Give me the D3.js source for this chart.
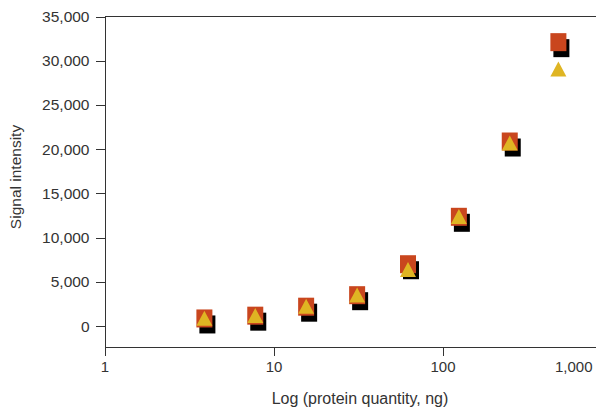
<!DOCTYPE html>
<html>
<head>
<meta charset="utf-8">
<script src="https://cdn.jsdelivr.net/npm/d3@7"></script>
<style>
  body { margin: 0; background: #fff; }
  text { font-family: "Liberation Sans", Arial, sans-serif; fill: #333; }
  .axis path, .axis line { stroke: #333; shape-rendering: crispEdges; }
</style>
</head>
<body>
<div id="chart"></div>
<script>
// protein quantity (ng) and the two measured series
var quantities = [3.9, 7.8, 15.6, 31.25, 62.5, 125, 250, 485]
var squareValues = [870, 1185, 2200, 3500, 7000, 12360, 20870, 32100]
var triangleValues = [900, 1200, 2250, 3520, 6400, 12400, 20700, 29060]

var yTicks = [0, 5000, 10000, 15000, 20000, 25000, 30000, 35000]
var xTicks = [1, 10, 100, 1000]

var width = 596,
    height = 407

var svg = d3.select('#chart')
  .append('svg')
  .attr('width', width)
  .attr('height', height)

var xScale = d3.scaleLog()
  .domain([1, 1000])
  .range([104.5, 611.5])

var yScale = d3.scaleLinear()
  .domain([-2300, 35000])
  .range([346.5, 16.5])

var xAxis = d3.axisBottom(xScale)
  .tickValues(xTicks)
  .tickSize(9)
  .tickSizeOuter(0)
  .tickFormat(d3.format(','))

var yAxis = d3.axisLeft(yScale)
  .tickValues(yTicks)
  .tickSize(9)
  .tickSizeOuter(0)
  .tickFormat(d3.format(','))

var gx = svg.append('g')
  .attr('class', 'axis')
  .attr('transform', 'translate(0,' + yScale(-2300) + ')')
  .call(xAxis)

gx.selectAll('text')
  .attr('y', 15)
  .attr('dy', '0.71em')
  .style('font-size', '15px')

// last label sits inside the visible area
gx.selectAll('.tick')
  .filter(d => d === 1000)
  .select('text')
  .attr('text-anchor', 'end')
  .attr('x', -19.5)

var gy = svg.append('g')
  .attr('class', 'axis')
  .attr('transform', 'translate(' + xScale(1) + ',0)')
  .call(yAxis)

gy.selectAll('text')
  .attr('x', -15)
  .style('font-size', '15.5px')

// top frame line
svg.append('line')
  .attr('x1', xScale(1))
  .attr('x2', width)
  .attr('y1', yScale(35000))
  .attr('y2', yScale(35000))
  .attr('stroke', '#333')
  .style('shape-rendering', 'crispEdges')

// squares with their black shadow
svg.selectAll('.shadow')
  .data(quantities)
  .enter()
  .append('rect')
  .attr('class', 'shadow')
  .attr('x', (d, i) => xScale(d) - 8 + 3)
  .attr('y', (d, i) => yScale(squareValues[i]) - 9 + 6)
  .attr('width', 16)
  .attr('height', 18)
  .style('fill', '#000')

svg.selectAll('.square')
  .data(quantities)
  .enter()
  .append('rect')
  .attr('class', 'square')
  .attr('x', (d, i) => xScale(d) - 8)
  .attr('y', (d, i) => yScale(squareValues[i]) - 9)
  .attr('width', 16)
  .attr('height', 18)
  .style('fill', '#c9461e')

svg.selectAll('.triangle')
  .data(quantities)
  .enter()
  .append('path')
  .attr('class', 'triangle')
  .attr('transform', (d, i) => 'translate(' + xScale(d) + ',' + yScale(triangleValues[i]) + ')')
  .attr('d', 'M0,-7.5L8,7.5L-8,7.5Z')
  .style('fill', '#dfb523')

// axis titles
svg.append('text')
  .attr('x', 360)
  .attr('y', 404)
  .attr('text-anchor', 'middle')
  .style('font-size', '16px')
  .text('Log (protein quantity, ng)')

svg.append('text')
  .attr('transform', 'translate(21,177) rotate(-90)')
  .attr('text-anchor', 'middle')
  .style('font-size', '15.5px')
  .text('Signal intensity')
</script>
</body>
</html>
